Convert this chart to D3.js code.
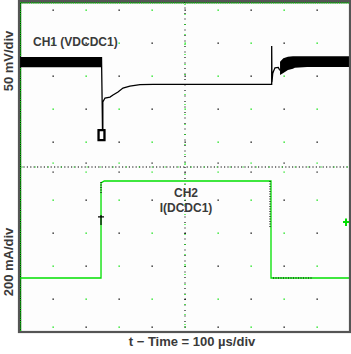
<!DOCTYPE html>
<html><head><meta charset="utf-8">
<script src="https://cdn.jsdelivr.net/npm/d3@7"></script>
<style>
body{margin:0;background:#fff}
svg{display:block}
text{font-family:"Liberation Sans",Arial,sans-serif;font-weight:bold;fill:#3a3a3a}
</style>
</head><body>
<svg id="c" width="351" height="354"></svg>
<script>
// ---- data ----
// time in µs (100 µs/div), CH1 in mV (deviation from nominal), CH2 in mA
const timeDomain = [0, 1000];
const ch1Label = "CH1 (VDCDC1)";
const ch2Label = ["CH2", "I(DCDC1)"];
const yLabel1 = "50 mV/div";
const yLabel2 = "200 mA/div";
const xLabel = "t \u2212 Time = 100 \u00b5s/div";

// ripple envelopes [t, high, low]
const ch1BandBefore = [[0, 8, -7.5], [248, 8, -7.5]];
const ch1BandAfter = [[788, 0.9, -19.2], [798, 6.1, -16.2], [812, 8.5, -11.7], [827, 9.3, -9.5],
                      [833, 9.3, -8.2], [870, 9.3, -7], [1000, 9.3, -7]];
// CH1 transient trace [t, mV]
const ch1Trace = [[247, 8], [249, -62.6], [250, -102.6], [238, -102.6], [238, -117.7], [256, -117.7],
  [256, -102.6], [251, -102.6], [251, -60], [257.6, -54], [272.7, -52.6], [281.8, -49.5], [297, -45],
  [312, -38.9], [333, -35.9], [363.6, -33.6], [403, -33.3], [760.6, -33.3], [762.7, -33.3],
  [762.7, 24.7], [763.5, -30], [765.8, -16.7], [767.6, -14.2], [772.7, -8.2], [782.7, -7.6],
  [785.8, -10.6], [788, -12]];
// undershoot loop at the bottom of the dip [t, mV]
const ch1Dip = [[250, -102.6], [238, -102.6], [238, -117.7], [256, -117.7], [256, -102.6], [250, -102.6]];
// CH2 load current [t, mA]
const ch2Trace = [[0, 0], [245.5, 0], [245.5, 576], [255.5, 588], [760.6, 588], [760.6, 0], [1000, 0]];
// black persistence dots overlaid on CH2 [[t0, mA0], [t1, mA1]]
const ch2Overlay = [[[245.5, 582], [245.5, 515]], [[757.6, 588], [757.6, 303]], [[766.7, 0], [884.8, 0]]];
const trigMarker = [245.5, 370];   // black cross
const trigLevel = 339;             // green level marker at right edge (mA)

// grid dot rows/cols
const gridCols = [1, 2, 3, 4, 5, 6, 7, 8, 9];
const gridRowsPx = [10, 43, 76, 109, 142, 200, 233, 266, 299, 327];

// ---- drawing ----
const svg = d3.select("#c");
const L = 20, R = 350, T = 2, B = 332;
const x = d3.scaleLinear().domain(timeDomain).range([L, R]);
const yDiv = d3.scaleLinear().domain([-5, 5]).range([B, T]);
const ch1Pos = 3.17, ch1Scale = 50, ch2Pos = -3.364, ch2Scale = 200;
const y1 = d3.scaleLinear().domain([(-5 - ch1Pos) * ch1Scale, (5 - ch1Pos) * ch1Scale]).range([B, T]);
const y2 = d3.scaleLinear().domain([(-5 - ch2Pos) * ch2Scale, (5 - ch2Pos) * ch2Scale]).range([B, T]);
const xd = d3.scaleLinear().domain([0, 10]).range([L, R]);

svg.append("rect").attr("width", 351).attr("height", 354).attr("fill", "#fff");
svg.append("defs").append("clipPath").attr("id", "clip")
  .append("rect").attr("x", 20).attr("y", 2).attr("width", 329).attr("height", 329);
const g = svg.append("g").attr("clip-path", "url(#clip)");
g.append("rect").attr("x", 20).attr("y", 2).attr("width", 329).attr("height", 329).attr("fill", "#fdfdfd");

const GREEN = "#00e000";
// grid dots
gridRowsPx.forEach((yy, j) => {
  gridCols.forEach((c, i) => {
    g.append("rect").attr("x", Math.round(xd(c)) - 0.5).attr("y", yy - 0.5)
      .attr("width", 1.3).attr("height", 1.3)
      .attr("fill", (i + j) % 2 ? GREEN : "#000");
  });
});
// center line ticks
gridCols.forEach((c, i) => {
  [163, 172].forEach((yy, k) => g.append("rect").attr("x", Math.round(xd(c)) - 0.5).attr("y", yy - 0.5)
    .attr("width", 1.2).attr("height", 1.2).attr("fill", (i + k) % 2 ? "#000" : GREEN));
});
// center dotted lines
g.append("line").attr("x1", L).attr("x2", R).attr("y1", yDiv(0)).attr("y2", yDiv(0))
  .attr("stroke", "#000").attr("stroke-width", 1.2).attr("stroke-dasharray", "1.2,2.2");
g.append("line").attr("x1", L + 1.7).attr("x2", R).attr("y1", yDiv(0)).attr("y2", yDiv(0))
  .attr("stroke", GREEN).attr("stroke-width", 1.2).attr("stroke-dasharray", "1,12");
g.append("line").attr("x1", xd(5)).attr("x2", xd(5)).attr("y1", T).attr("y2", B)
  .attr("stroke", "#000").attr("stroke-width", 1.1).attr("stroke-dasharray", "1,4.5");
g.append("line").attr("x1", xd(5)).attr("x2", xd(5)).attr("y1", T + 2).attr("y2", B)
  .attr("stroke", GREEN).attr("stroke-width", 1.1).attr("stroke-dasharray", "1,9");
// inner dotted border (top, left)
["h", "v"].forEach(d => {
  const a = d === "h" ? {x1: L, x2: R, y1: 2.8, y2: 2.8} : {x1: 20.6, x2: 20.6, y1: T, y2: B};
  g.append("line").attr("x1", a.x1).attr("x2", a.x2).attr("y1", a.y1).attr("y2", a.y2)
    .attr("stroke", "#000").attr("stroke-width", 1.1);
  g.append("line").attr("x1", a.x1).attr("x2", a.x2).attr("y1", a.y1).attr("y2", a.y2)
    .attr("stroke", GREEN).attr("stroke-width", 1.2).attr("stroke-dasharray", "1.2,1");
});

// CH2 trace
const line2 = d3.line().x(d => x(d[0])).y(d => y2(d[1]));
g.append("path").attr("d", line2(ch2Trace)).attr("fill", "none")
  .attr("stroke", GREEN).attr("stroke-width", 1.3);
ch2Overlay.forEach(seg => g.append("path").attr("d", line2(seg)).attr("fill", "none")
  .attr("stroke", "#000").attr("stroke-width", 1.1).attr("stroke-dasharray", "1,1.5"));
// trigger cross
const tx = x(trigMarker[0]), ty = y2(trigMarker[1]);
g.append("path").attr("d", `M${tx - 3},${ty}H${tx + 3}M${tx},${ty - 2}V${ty + 8}`)
  .attr("stroke", "#000").attr("stroke-width", 1.2).attr("fill", "none");
// trigger level marker
const ly = y2(trigLevel);
g.append("path").attr("d", `M${R - 7},${ly}H${R}M${R - 4},${ly - 3.5}V${ly + 4}`)
  .attr("stroke", GREEN).attr("stroke-width", 2).attr("fill", "none");

// CH1 ripple bands and trace
const area1 = d3.area().x(d => x(d[0])).y0(d => y1(d[2])).y1(d => y1(d[1]));
[ch1BandBefore, ch1BandAfter].forEach(b => g.append("path").attr("d", area1(b)).attr("fill", "#000"));
const line1 = d3.line().x(d => x(d[0])).y(d => y1(d[1]));
g.append("path").attr("d", line1(ch1Trace)).attr("fill", "none")
  .attr("stroke", "#000").attr("stroke-width", 1.3).attr("stroke-linejoin", "miter");
g.append("path").attr("d", line1(ch1Dip)).attr("fill", "none")
  .attr("stroke", "#000").attr("stroke-width", 2.2);

// frame
svg.append("rect").attr("x", 19).attr("y", 1).attr("width", 331).attr("height", 331)
  .attr("fill", "none").attr("stroke", "#555").attr("stroke-width", 2.2);

// labels
svg.append("text").attr("x", 33).attr("y", 46).attr("font-size", 12).text(ch1Label);
svg.append("text").attr("x", 186).attr("y", 197).attr("text-anchor", "middle").attr("font-size", 12).text(ch2Label[0]);
svg.append("text").attr("x", 186).attr("y", 212).attr("text-anchor", "middle").attr("font-size", 12).text(ch2Label[1]);
svg.append("text").attr("transform", "translate(12.5,61) rotate(-90)").attr("text-anchor", "middle")
  .attr("font-size", 13).text(yLabel1);
svg.append("text").attr("transform", "translate(12.5,262) rotate(-90)").attr("text-anchor", "middle")
  .attr("font-size", 13).text(yLabel2);
svg.append("text").attr("x", 192).attr("y", 346).attr("text-anchor", "middle")
  .attr("font-size", 13).text(xLabel);
</script>
</body></html>
